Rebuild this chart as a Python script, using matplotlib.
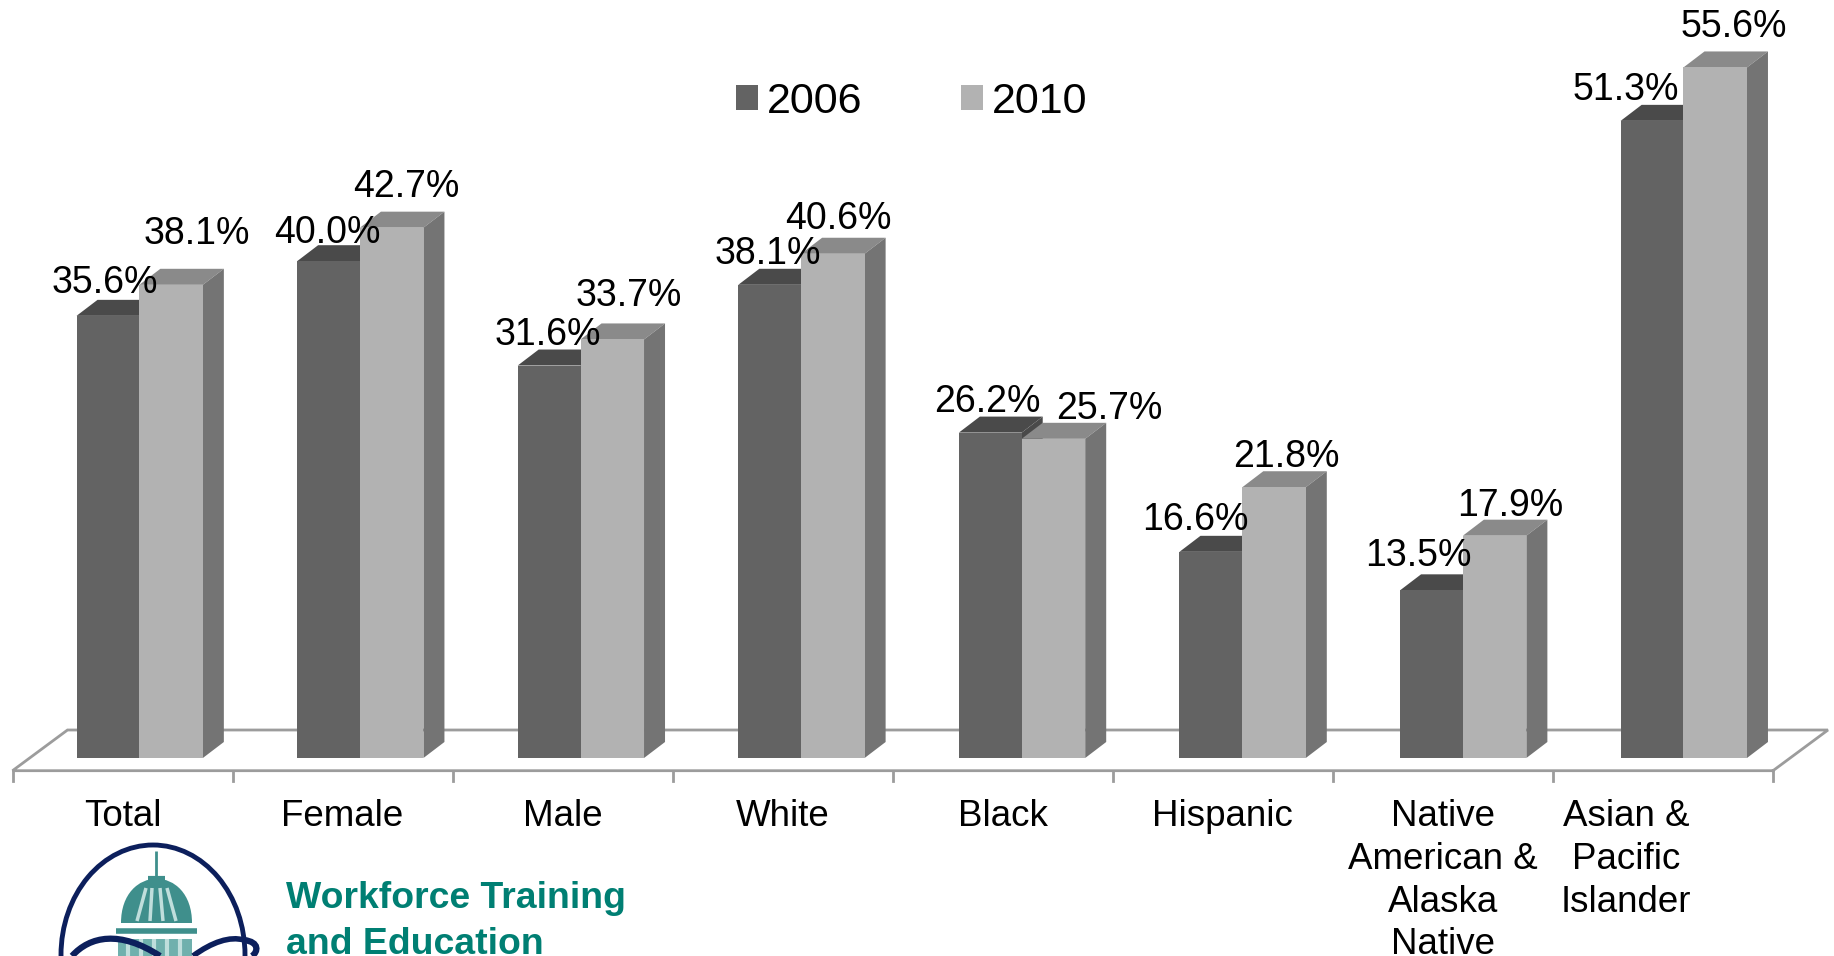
import matplotlib
matplotlib.use("Agg")
import matplotlib.pyplot as plt
from matplotlib.patches import Polygon, Rectangle, Ellipse, Patch, PathPatch
from matplotlib.path import Path

plt.rcParams['font.family'] = ['Liberation Sans', 'DejaVu Sans']

# Data
categories = ["Total", "Female", "Male", "White", "Black", "Hispanic",
              "Native\nAmerican &\nAlaska\nNative", "Asian &\nPacific\nIslander"]
values_2006 = [35.6, 40.0, 31.6, 38.1, 26.2, 16.6, 13.5, 51.3]
values_2010 = [38.1, 42.7, 33.7, 40.6, 25.7, 21.8, 17.9, 55.6]

# Label centres in pixels, the labels sit by hand like in the original slide
label_xy_2006 = [(105, 283), (327, 233), (548, 335), (768, 254), (987, 402), (1195, 520), (1418, 556), (1626, 90)]
label_xy_2010 = [(197, 234), (406, 187), (629, 296), (838, 219), (1109, 409), (1286, 457), (1510, 506), (1734, 27)]

W, H = 1834, 956
dark, dark_top = "#636363", "#4a4a4a"
light, light_top, light_side = "#b2b2b2", "#8a8a8a", "#747474"
floor_color = "#9c9c9c"

# One x unit is one category, one y unit is one percent
x_unit = 220.06
y_unit = 12.42
x0_px, y0_px = 12.5, 758

fig = plt.figure(figsize=(W / 100, H / 100), dpi=100)
ax = fig.add_axes([0, 0, 1, 1])
ax.set_xlim(-x0_px / x_unit, (W - x0_px) / x_unit)
ax.set_ylim(-(H - y0_px) / y_unit, y0_px / y_unit)
ax.axis("off")

dx = 21 / x_unit
dy = 16 / y_unit


def px(x, y):
    return (x - x0_px) / x_unit, (y0_px - y) / y_unit


# Floor
front_y = -12.7 / y_unit
back_y = 28 / y_unit
back_off = 55 / x_unit
ax.plot([8, 8 + back_off, back_off, 0, 8], [front_y, back_y, back_y, front_y, front_y],
        color=floor_color, lw=2, zorder=1, solid_joinstyle="miter")
for i in range(9):
    ax.plot([i, i], [front_y, front_y - 10 / y_unit], color=floor_color, lw=2, zorder=1)


def draw_bar(left, right, value, front, top, side, z):
    ax.add_patch(Polygon([(left, value), (left + dx, value + dy), (right + dx, value + dy), (right, value)],
                         facecolor=top, edgecolor="none", zorder=z))
    ax.add_patch(Polygon([(right, 0), (right + dx, dy), (right + dx, value + dy), (right, value)],
                         facecolor=side, edgecolor="none", zorder=z))
    ax.add_patch(Rectangle((left, 0), right - left, value, facecolor=front, edgecolor="none", zorder=z + 0.1))


# Bars, a little wider spaced than the ticks because of the perspective
for i in range(len(categories)):
    start = 0.291 + i * 1.0024
    draw_bar(start, start + 0.2855, values_2006[i], dark, dark_top, dark_top, 2)
    draw_bar(start + 0.2855, start + 0.574, values_2010[i], light, light_top, light_side, 3)

for vals, xy in ((values_2006, label_xy_2006), (values_2010, label_xy_2010)):
    for v, (lx, ly) in zip(vals, xy):
        x, y = px(lx, ly)
        ax.text(x, y, "%.1f%%" % v, ha="center", va="center", fontsize=27, color="black", zorder=6)

# Category labels
for i, name in enumerate(categories):
    shift = -37 / x_unit if i == 7 else 0
    ax.text(i + 0.5 + shift, px(0, 799)[1], name, ha="center", va="top", fontsize=26.5,
            linespacing=1.29, color="black", zorder=6)

# Legend
handles = [Patch(facecolor=dark, label="2006"), Patch(facecolor=light, label="2010")]
ax.legend(handles=handles, loc="center left", bbox_to_anchor=(736 / W, 1 - 102 / H), ncols=2,
          frameon=False, fontsize=31, borderaxespad=0, borderpad=0, handlelength=0.51,
          handleheight=0.51, handletextpad=0.2, columnspacing=2.3)

# Logo text
teal = "#007f73"
x, y = px(286, 899)
ax.text(x, y, "Workforce Training", fontsize=26.9, fontweight="bold", color=teal, va="center")
x, y = px(286, 944)
ax.text(x, y, "and Education", fontsize=26.9, fontweight="bold", color=teal, va="center")

# Logo drawing
navy = "#0c1f5c"
dome = "#3f8f8c"
dome_pale = "#bfdedc"


def line_px(xs, ys, color, lw, z=4):
    pts = [px(a, b) for a, b in zip(xs, ys)]
    ax.plot([p[0] for p in pts], [p[1] for p in pts], color=color, lw=lw, zorder=z, solid_capstyle="butt")


def curve_px(points, color, lw, z=5):
    pts = [px(a, b) for a, b in points]
    codes = [Path.MOVETO, Path.CURVE4, Path.CURVE4, Path.CURVE4]
    ax.add_patch(PathPatch(Path(pts, codes), facecolor="none", edgecolor=color, lw=lw, zorder=z))


cx, cy = px(153, 955)
ax.add_patch(Ellipse((cx, cy), 184 / x_unit, 220 / y_unit, facecolor="none", edgecolor=navy, lw=3.5, zorder=4))

# dome with its ribs
p0, p1, p2, p3 = px(121, 923), px(121, 864), px(192, 864), px(192, 923)
ax.add_patch(PathPatch(Path([p0, p1, p2, p3, p0], [Path.MOVETO, Path.CURVE4, Path.CURVE4, Path.CURVE4, Path.CLOSEPOLY]),
                       facecolor=dome, edgecolor="none", zorder=4))
for top_x, bottom_x in ((146, 137), (152, 150), (160, 163), (167, 176)):
    line_px([top_x, bottom_x], [888, 921], dome_pale, 2.5)
line_px([156, 156], [851, 878], dome, 2)
line_px([148, 165], [878, 878], dome, 3)

# band and columns under the dome
line_px([116, 197], [931, 931], dome, 4)
p = px(118, 956)
ax.add_patch(Rectangle(p, 74 / x_unit, 17 / y_unit, facecolor="#6fb0ad", edgecolor="none", zorder=4))
for col_x in (128, 141, 154, 167, 180):
    line_px([col_x, col_x], [939, 956], dome_pale, 3)

# swooshes across the bottom
curve_px([(72, 956), (90, 936), (120, 930), (160, 956)], navy, 4.5)
curve_px([(193, 956), (212, 942), (230, 936), (244, 940)], navy, 4)
curve_px([(244, 940), (260, 942), (258, 952), (252, 956)], navy, 4.5)

fig.savefig("out.png", dpi=100)
